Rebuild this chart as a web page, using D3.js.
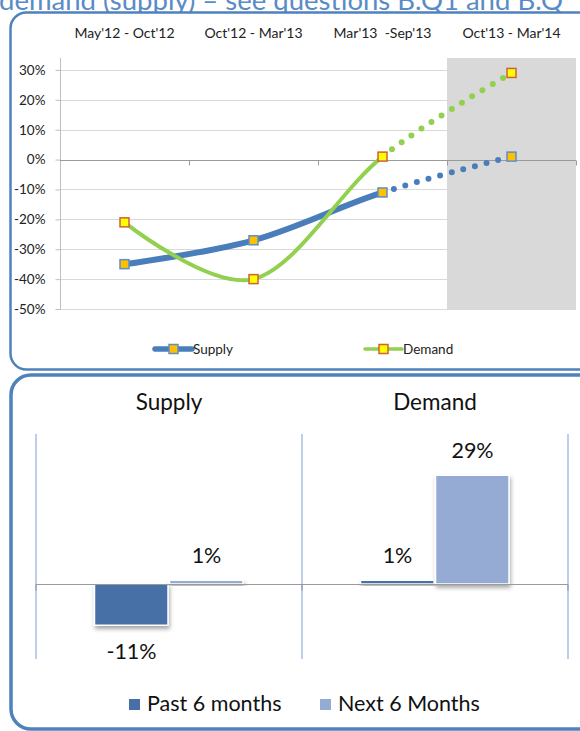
<!DOCTYPE html>
<html><head><meta charset="utf-8">
<script src="https://cdn.jsdelivr.net/npm/d3@7"></script>
<style>
html,body{margin:0;padding:0;background:#fff;}
svg{display:block;font-family:Lato,"Open Sans",sans-serif;}
</style></head>
<body><svg id="c" width="580" height="731"></svg>
<script>
// ---------- data ----------
const titleText = "demand (supply) \u2013 see questions B.Q1 and B.Q";
const periods = ["May'12 - Oct'12", "Oct'12 - Mar'13", "Mar'13  -Sep'13", "Oct'13 - Mar'14"];
const supplyValues = [-0.35, -0.27, -0.11, 0.01];
const demandValues = [-0.21, -0.40, 0.01, 0.29];
const yTickValues = [0.3, 0.2, 0.1, 0, -0.1, -0.2, -0.3, -0.4, -0.5];
const lineSeries = ["Supply", "Demand"];

const groups = ["Supply", "Demand"];
const pastValues = [-0.11, 0.01];
const nextValues = [0.01, 0.29];
const barSeries = ["Past 6 months", "Next 6 Months"];

// ---------- styles ----------
const panelBlue = "#4f81bd";
const supplyColor = "#4a7ebb";
const demandColor = "#92d050";
const pastColor = "#4771a6";
const nextColor = "#95abd3";
const pct = d => d3.format(".0%")(d).replace("\u2212","-");

const svg = d3.select("#c");
const defs = svg.append("defs");
const f = defs.append("filter").attr("id","shadow").attr("x","-20%").attr("y","-20%").attr("width","140%").attr("height","160%");
f.append("feDropShadow").attr("dx",1).attr("dy",3).attr("stdDeviation",2).attr("flood-color","#000").attr("flood-opacity",0.35);

// title (cut off at top, as in the source)
svg.append("text").attr("x",-1).attr("y",10).attr("font-size",27.5).attr("fill","#5b8bc6").text(titleText);

// ---------- panels ----------
svg.append("rect").attr("x",10.5).attr("y",12.5).attr("width",600).attr("height",357).attr("rx",16)
  .attr("fill","#fff").attr("stroke",panelBlue).attr("stroke-width",2.5);
svg.append("rect").attr("x",11).attr("y",375).attr("width",600).attr("height",354).attr("rx",20)
  .attr("fill","#fff").attr("stroke",panelBlue).attr("stroke-width",3.5);

// ---------- top line chart ----------
const x = d3.scaleBand().domain(periods).range([60, 576]);
const y = d3.scaleLinear().domain([-0.5, 0.34]).range([309, 58]);
const topG = svg.append("g");

// shaded forecast band
const lastP = periods[periods.length-1];
topG.append("rect").attr("x", x(lastP)).attr("y", y(0.34)).attr("width", x.bandwidth())
  .attr("height", y(-0.5)-y(0.34)).attr("fill","#d9d9d9");

// gridlines
topG.selectAll("line.grid").data(yTickValues.filter(d=>d!==0)).join("line")
  .attr("x1",60).attr("x2",576).attr("y1",d=>Math.round(y(d))+0.5).attr("y2",d=>Math.round(y(d))+0.5)
  .attr("stroke","#d9d9d9").attr("stroke-width",1);

// y axis
const yAxis = d3.axisLeft(y).tickValues(yTickValues).tickFormat(pct).tickSize(5).tickPadding(10);
const yg = topG.append("g").attr("transform","translate(60.5,0)").call(yAxis);
yg.select(".domain").attr("stroke","#bfbfbf").attr("d",`M-0,${y(0.34)}V${y(-0.5)}`);
yg.selectAll(".tick line").attr("stroke","#bfbfbf");
yg.selectAll(".tick text").attr("font-size",13.5).attr("fill","#222").attr("font-family","Lato");

// zero line with category tick marks
const y0 = Math.round(y(0))+0.5;
topG.append("line").attr("x1",60).attr("x2",576).attr("y1",y0).attr("y2",y0).attr("stroke","#9a9a9a").attr("stroke-width",1);
const bounds = periods.map(p=>x(p)).concat([x(lastP)+x.bandwidth()]);
topG.selectAll("line.ct").data(bounds.slice(1)).join("line")
  .attr("x1",d=>Math.round(d)+0.5).attr("x2",d=>Math.round(d)+0.5).attr("y1",y0).attr("y2",y0+5).attr("stroke","#9a9a9a");

// category labels at top
topG.selectAll("text.cat").data(periods).join("text")
  .attr("x",d=>x(d)+x.bandwidth()/2).attr("y",38).attr("text-anchor","middle")
  .attr("font-size",14).attr("fill","#222").style("white-space","pre").text(d=>d);

// lines
const line = d3.line().x(d=>d[0]).y(d=>d[1]).curve(d3.curveCardinal.tension(0));
function drawSeries(vals, color, width, mFill, mStroke){
  const pts = vals.map((v,i)=>[x(periods[i])+x.bandwidth()/2, y(v)]);
  const d = line(pts);
  const parts = d.split("C");
  const solid = parts.slice(0, parts.length-1).join("C");
  const p3 = pts[pts.length-2];
  const dotted = `M${p3[0]},${p3[1]}C` + parts[parts.length-1];
  topG.append("path").attr("d",solid).attr("fill","none").attr("stroke",color).attr("stroke-width",width).attr("stroke-linecap","round");
  topG.append("path").attr("d",dotted).attr("fill","none").attr("stroke",color).attr("stroke-width",6)
    .attr("stroke-linecap","round").attr("stroke-dasharray","0 12");
  topG.selectAll(null).data(pts).join("rect")
    .attr("x",d=>d[0]-4.5).attr("y",d=>d[1]-4.5).attr("width",9).attr("height",9)
    .attr("fill",mFill).attr("stroke",mStroke).attr("stroke-width",1.5);
}
drawSeries(supplyValues, supplyColor, 6, "#ffc000", "#5f8fc7");
drawSeries(demandValues, demandColor, 4, "#ffff00", "#d0603a");

// top legend
const legItems = [
  {name: lineSeries[0], color: supplyColor, w: 5.5, mFill:"#ffc000", mStroke:"#5f8fc7", x: 155},
  {name: lineSeries[1], color: demandColor, w: 3.5, mFill:"#ffff00", mStroke:"#d0603a", x: 365}
];
const lg = topG.selectAll("g.leg").data(legItems).join("g").attr("transform",d=>`translate(${d.x},349)`);
lg.append("line").attr("x1",0).attr("x2",37).attr("stroke",d=>d.color).attr("stroke-width",d=>d.w).attr("stroke-linecap","round");
lg.append("rect").attr("x",14).attr("y",-4.5).attr("width",9).attr("height",9).attr("fill",d=>d.mFill).attr("stroke",d=>d.mStroke).attr("stroke-width",1.5);
lg.append("text").attr("x",38).attr("y",5).attr("font-size",13.5).attr("fill","#222").text(d=>d.name);

// ---------- bottom bar chart ----------
const bot = svg.append("g");
const x0 = d3.scaleBand().domain(groups).range([36, 568]);
const x1 = d3.scaleBand().domain(barSeries).range([0, 150]);
const yb = d3.scaleLinear().domain([-0.2, 0.4]).range([659, 434]);
const groupOffset = (x0.bandwidth()-150)/2;

// group titles
bot.selectAll("text.gt").data(groups).join("text")
  .attr("x",d=>x0(d)+x0.bandwidth()/2).attr("y",410).attr("text-anchor","middle")
  .attr("font-size",22.5).attr("fill","#111").text(d=>d);

// vertical separators
const vb = groups.map(g=>x0(g)).concat([x0(groups[groups.length-1])+x0.bandwidth()]);
bot.selectAll("line.vs").data(vb).join("line")
  .attr("x1",d=>d).attr("x2",d=>d).attr("y1",yb(0.4)).attr("y2",yb(-0.2))
  .attr("stroke","#bccfea").attr("stroke-width",2);

// bars
const barData = [];
groups.forEach((g,i)=>{
  barData.push({g, s: barSeries[0], v: pastValues[i], c: pastColor});
  barData.push({g, s: barSeries[1], v: nextValues[i], c: nextColor});
});
bot.selectAll("rect.bar").data(barData).join("rect")
  .attr("x",d=>x0(d.g)+groupOffset+x1(d.s)+0.5).attr("width",x1.bandwidth()-1.5)
  .attr("y",d=>yb(Math.max(0,d.v))).attr("height",d=>Math.abs(yb(d.v)-yb(0)))
  .attr("fill",d=>d.c).attr("stroke","#fff").attr("stroke-width",1.5).attr("filter","url(#shadow)");

// zero line
const yb0 = Math.round(yb(0))+0.5;
bot.append("line").attr("x1",36).attr("x2",568).attr("y1",yb0).attr("y2",yb0).attr("stroke","#9a9a9a").attr("stroke-width",1.2);
bot.selectAll("line.bt").data(vb).join("line")
  .attr("x1",d=>d).attr("x2",d=>d).attr("y1",yb0).attr("y2",yb0+6).attr("stroke","#9a9a9a").attr("stroke-width",1.2);

// value labels
bot.selectAll("text.vl").data(barData).join("text")
  .attr("x",d=>x0(d.g)+groupOffset+x1(d.s)+x1.bandwidth()/2)
  .attr("y",d=>d.v>=0 ? yb(d.v)-17 : yb(d.v)+34)
  .attr("text-anchor","middle").attr("font-size",21.5).attr("fill","#111")
  .text(d=>pct(d.v));

// bottom legend
const bl = [{n: barSeries[0], c: pastColor, x: 129}, {n: barSeries[1], c: nextColor, x: 320}];
const blg = bot.selectAll("g.bl").data(bl).join("g").attr("transform",d=>`translate(${d.x},699)`);
blg.append("rect").attr("width",11).attr("height",11).attr("fill",d=>d.c);
blg.append("text").attr("x",18).attr("y",12).attr("font-size",21.5).attr("fill","#111").text(d=>d.n);
</script></body></html>
